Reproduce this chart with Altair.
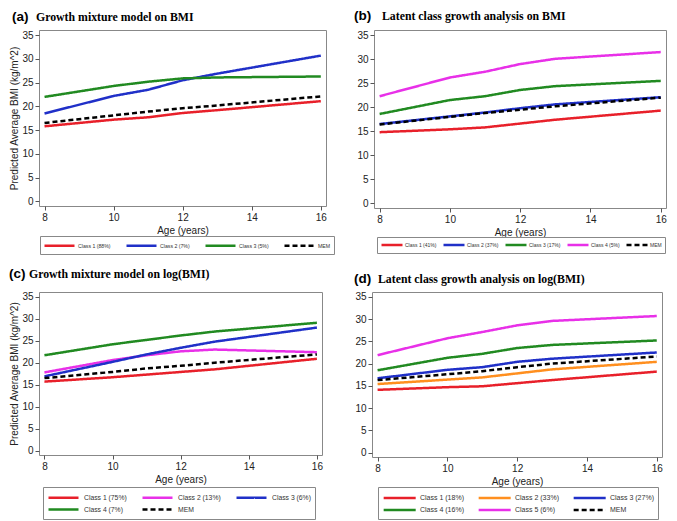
import altair as alt
import pandas as pd

AGES = [8, 10, 11, 12, 13, 16]

# (a) Growth mixture model on BMI
A_CLASSES = ["Class 1 (88%)", "Class 2 (7%)", "Class 3 (5%)", "MEM"]
A_C1 = [15.8, 17.2, 17.7, 18.6, 19.2, 21.1]
A_C2 = [18.5, 22.2, 23.5, 25.5, 26.9, 30.7]
A_C3 = [22.0, 24.3, 25.2, 25.9, 26.1, 26.3]
A_MEM = [16.5, 18.1, 18.9, 19.6, 20.2, 22.1]

# (b) Latent class growth analysis on BMI
B_CLASSES = ["Class 1 (41%)", "Class 2 (37%)", "Class 3 (17%)", "Class 4 (5%)", "MEM"]
B_C1 = [14.8, 15.4, 15.8, 16.6, 17.4, 19.3]
B_C2 = [16.5, 18.1, 18.9, 19.8, 20.6, 22.1]
B_C3 = [18.6, 21.5, 22.3, 23.6, 24.4, 25.5]
B_C4 = [22.3, 26.2, 27.4, 29.0, 30.1, 31.5]
B_MEM = [16.4, 18.0, 18.8, 19.5, 20.2, 22.0]

# (c) Growth mixture model on log(BMI)
C_CLASSES = ["Class 1 (75%)", "Class 2 (13%)", "Class 3 (6%)", "Class 4 (7%)", "MEM"]
C_C1 = [15.7, 16.7, 17.3, 17.9, 18.5, 20.9]
C_C2 = [17.8, 20.6, 21.7, 22.6, 23.0, 22.4]
C_C3 = [16.9, 20.2, 21.9, 23.4, 24.8, 28.0]
C_C4 = [21.7, 24.2, 25.2, 26.2, 27.1, 29.1]
C_MEM = [16.5, 17.9, 18.7, 19.3, 20.0, 21.9]

# (d) Latent class growth analysis on log(BMI)
D_CLASSES = ["Class 1 (18%)", "Class 2 (33%)", "Class 3 (27%)", "Class 4 (16%)",
             "Class 5 (6%)", "MEM"]
D_C1 = [14.1, 14.7, 14.9, 15.6, 16.3, 18.2]
D_C2 = [15.4, 16.4, 16.9, 17.8, 18.7, 20.4]
D_C3 = [16.7, 18.6, 19.2, 20.4, 21.1, 22.5]
D_C4 = [18.5, 21.3, 22.2, 23.5, 24.2, 25.2]
D_C5 = [21.9, 25.7, 27.1, 28.6, 29.6, 30.7]
D_MEM = [16.3, 17.6, 18.3, 19.2, 20.0, 21.6]

RED, BLUE, GREEN, MAGENTA, ORANGE, BLACK = (
    "#e8202a", "#2030c8", "#218a21", "#e830e8", "#ff8f1f", "#000000")

SANS = "Liberation Sans"
SERIF = "Liberation Serif"
Y_TITLE = "Predicted Average BMI (kg/m^2)"
X_TITLE = "Age (years)"
# legend line symbol: a horizontal stroke starting at the entry's left edge
LINE_SYMBOL = "M-1,0H5"


def long_df(classes, series):
    rows = []
    for cls, vals in zip(classes, series):
        for a, v in zip(AGES, vals):
            rows.append({"age": a, "bmi": v, "cls": cls})
    return pd.DataFrame(rows)


def panel(classes, series, colors, letter, title, w, h, ytitle,
          letter_x, title_x, title_y, leg):
    df = long_df(classes, series)
    dashes = [[1, 0]] * (len(classes) - 1) + [[5, 3]]
    legend = alt.Legend(title=None, orient="none", direction="horizontal",
                        symbolType=LINE_SYMBOL, symbolStrokeWidth=2.5,
                        labelFont=SANS, labelColor="#333",
                        strokeColor="#888", fillColor="white", **leg)
    yaxis = dict(values=[0, 5, 10, 15, 20, 25, 30, 35], grid=False, domain=False,
                 tickColor="#555", tickSize=4, labelFont=SANS, labelFontSize=10,
                 labelColor="#222", labelPadding=2)
    if ytitle:
        yaxis.update(title=ytitle, titleFont=SANS, titleFontSize=10,
                     titleFontWeight="normal", titleColor="#222", titlePadding=2)
    else:
        yaxis.update(title=None)
    lines = alt.Chart(df).mark_line(strokeWidth=2.5).encode(
        x=alt.X("age:Q", scale=alt.Scale(domain=[7.84, 16.15], nice=False, zero=False),
                axis=alt.Axis(values=[8, 10, 12, 14, 16], title=X_TITLE, grid=False,
                              domain=False, tickColor="#555", tickSize=4,
                              labelFont=SANS, labelFontSize=10, labelColor="#222",
                              labelPadding=2, titleFont=SANS, titleFontSize=10,
                              titleFontWeight="normal", titleColor="#222",
                              titlePadding=3)),
        y=alt.Y("bmi:Q", scale=alt.Scale(domain=[-1, 36.1], nice=False, zero=False),
                axis=alt.Axis(**yaxis)),
        color=alt.Color("cls:N", scale=alt.Scale(domain=classes, range=colors),
                        legend=legend),
        strokeDash=alt.StrokeDash("cls:N", scale=alt.Scale(domain=classes, range=dashes),
                                  legend=legend),
    )
    letter_layer = alt.Chart(pd.DataFrame({"t": [letter]})).mark_text(
        font=SANS, fontWeight="bold", fontSize=13.5, align="left",
        baseline="alphabetic", color="black").encode(
        x=alt.value(letter_x), y=alt.value(title_y), text="t:N")
    title_layer = alt.Chart(pd.DataFrame({"t": [title]})).mark_text(
        font=SERIF, fontWeight="bold", fontSize=11.8, align="left",
        baseline="alphabetic", color="black").encode(
        x=alt.value(title_x), y=alt.value(title_y), text="t:N")
    return alt.layer(lines, letter_layer, title_layer).properties(width=w, height=h)


pa = panel(A_CLASSES, [A_C1, A_C2, A_C3, A_MEM], [RED, BLUE, GREEN, BLACK],
           "(a)", "Growth mixture model on BMI", 287, 176, Y_TITLE,
           -27, -3, -9,
           dict(legendX=1, legendY=206, columns=4, symbolSize=100, labelFontSize=5.2,
                labelOffset=22, columnPadding=10, padding=3))
pb = panel(B_CLASSES, [B_C1, B_C2, B_C3, B_C4, B_MEM],
           [RED, BLUE, GREEN, MAGENTA, BLACK],
           "(b)", "Latent class growth analysis on BMI", 292, 178, None,
           -20, 8, -10,
           dict(legendX=3, legendY=207, columns=5, symbolSize=49, labelFontSize=5,
                labelOffset=15, columnPadding=1, padding=3))
pc = panel(C_CLASSES, [C_C1, C_C2, C_C3, C_C4, C_MEM],
           [RED, MAGENTA, BLUE, GREEN, BLACK],
           "(c)", "Growth mixture model on log(BMI)", 283, 163, Y_TITLE,
           -30, -10, -14,
           dict(legendX=4, legendY=195, columns=3, symbolSize=100, labelFontSize=6.8,
                labelOffset=24, columnPadding=10, rowPadding=0, padding=4))
pd_ = panel(D_CLASSES, [D_C1, D_C2, D_C3, D_C4, D_C5, D_MEM],
            [RED, ORANGE, BLUE, GREEN, MAGENTA, BLACK],
            "(d)", "Latent class growth analysis on log(BMI)", 290, 165, None,
            -18, 6, -9,
            dict(legendX=6, legendY=195, columns=3, symbolSize=114, labelFontSize=7,
                 labelOffset=24, columnPadding=9, rowPadding=0, padding=4))

row1 = alt.hconcat(pa, pb, spacing=18).resolve_scale(
    color="independent", strokeDash="independent").resolve_legend(
    color="independent", strokeDash="independent")
row2 = alt.hconcat(pc, pd_, spacing=30).resolve_scale(
    color="independent", strokeDash="independent").resolve_legend(
    color="independent", strokeDash="independent")

chart = alt.vconcat(row1, row2, spacing=11).resolve_scale(
    color="independent", strokeDash="independent").resolve_legend(
    color="independent", strokeDash="independent").properties(
    padding=0, background="white").configure_view(stroke="#888", strokeWidth=1)

chart.save("out.html", embed_options={"renderer": "svg", "actions": False})
